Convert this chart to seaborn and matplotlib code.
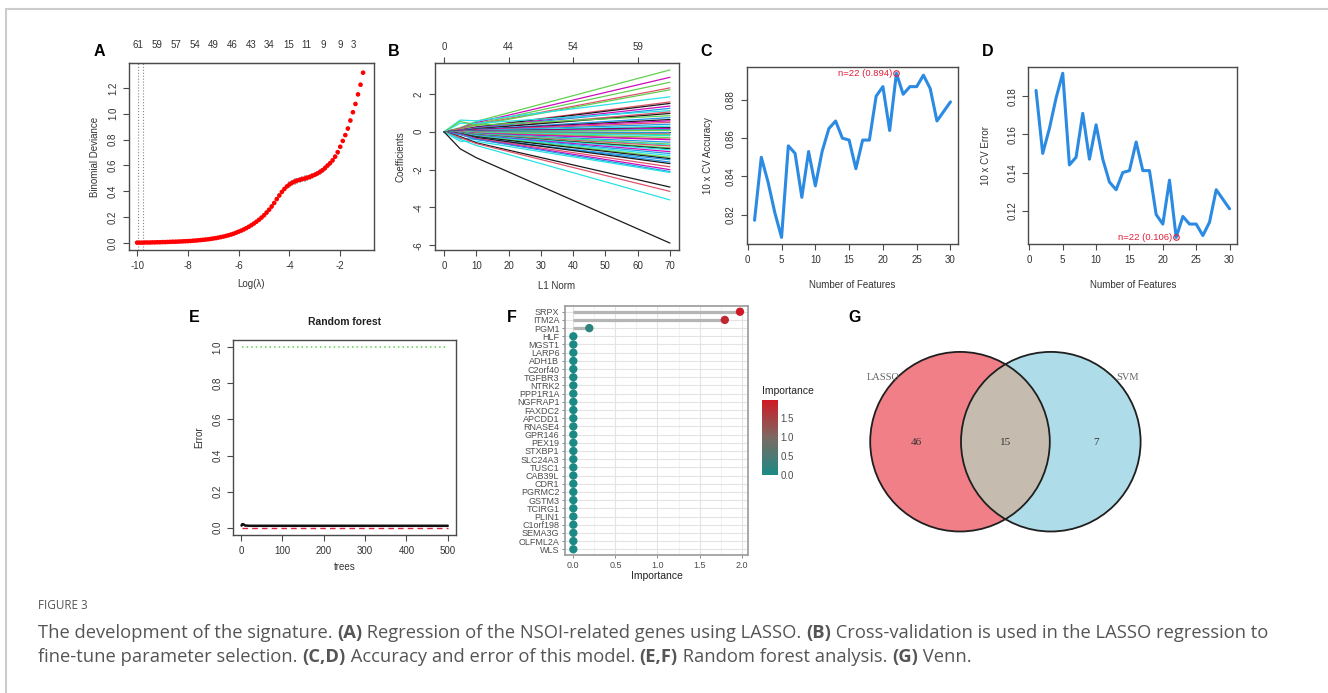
import numpy as np
import pandas as pd
import matplotlib
matplotlib.use("Agg")
import matplotlib.pyplot as plt
import seaborn as sns
from matplotlib.patches import Circle
from matplotlib.lines import Line2D
from matplotlib.colors import LinearSegmentedColormap, Normalize
from matplotlib.cm import ScalarMappable

sns.set_style("white")
plt.rcParams["font.family"] = ["Liberation Sans", "DejaVu Sans"]

# ------------------------------------------------------------------ data
# (A) LASSO cross-validation curve
lasso_loglambda = [
    -10.0, -9.9, -9.8, -9.7, -9.6, -9.5, -9.4, -9.3, -9.2, -9.1,
    -9.0, -8.9, -8.8, -8.7, -8.6, -8.5, -8.4, -8.3, -8.2, -8.1,
    -8.0, -7.9, -7.8, -7.7, -7.6, -7.5, -7.4, -7.3, -7.2, -7.1,
    -7.0, -6.9, -6.8, -6.7, -6.6, -6.5, -6.4, -6.3, -6.2, -6.1,
    -6.0, -5.9, -5.8, -5.7, -5.6, -5.5, -5.4, -5.3, -5.2, -5.1,
    -5.0, -4.9, -4.8, -4.7, -4.6, -4.5, -4.4, -4.3, -4.2, -4.1,
    -4.0, -3.9, -3.8, -3.7, -3.6, -3.5, -3.4, -3.3, -3.2, -3.1,
    -3.0, -2.9, -2.8, -2.7, -2.6, -2.5, -2.4, -2.3, -2.2, -2.1,
    -2.0, -1.9, -1.8, -1.7, -1.6, -1.5, -1.4, -1.3, -1.2, -1.1]
lasso_deviance = [
    .003, .003, .003, .004, .004, .004, .005, .005, .006, .006,
    .007, .007, .008, .009, .010, .010, .011, .012, .013, .014,
    .015, .016, .018, .019, .021, .023, .025, .027, .029, .032,
    .035, .038, .042, .046, .050, .055, .060, .066, .072, .080,
    .088, .096, .105, .115, .126, .138, .151, .165, .180, .197,
    .215, .236, .258, .283, .310, .340, .368, .395, .418, .438,
    .453, .466, .476, .483, .489, .494, .499, .505, .512, .520,
    .528, .538, .550, .563, .580, .600, .618, .640, .668, .703,
    .745, .790, .835, .886, .948, 1.012, 1.076, 1.150, 1.225, 1.318]
lasso_se = ([0.006] * 40 + [0.010] * 10 + [0.016] * 10 + [0.024] * 10
            + [0.020] * 10 + [0.016] * 10)
lasso_top_pos = [-9.95, -9.22, -8.48, -7.74, -6.99, -6.24, -5.51, -4.79,
                 -4.04, -3.32, -2.65, -2.0, -1.48]
lasso_top_labels = ["61", "59", "57", "54", "49", "46", "43", "34",
                    "15", "11", "9", "9", "3"]
lambda_min_log = -9.96
lambda_1se_log = -9.75

# (B) coefficient paths: value at L1 norm 5, 10 and 70
path_l1 = [0, 5, 10, 70]
coef_at5 = [0.22, 0.18, 0.15, 0.14, 0.12, 0.62, 0.10, 0.08, 0.09, 0.07,
            0.45, 0.05, 0.05, 0.55, 0.04, 0.03, 0.02, 0.02, 0.0, 0.0,
            0.0, 0.0, 0.0, 0.0, 0.0, 0.0, 0.0, 0.0, 0.0, -0.01,
            -0.02, -0.02, -0.03, -0.03, -0.04, -0.04, -0.05, -0.05, -0.06, -0.06,
            -0.07, -0.07, -0.08, -0.09, -0.35, -0.10, -0.10, -0.12, -0.13, -0.15,
            -0.50, -0.25, -0.30, -0.40, -0.90]
coef_at10 = [0.55, 0.48, 0.42, 0.38, 0.35, 0.58, 0.26, 0.25, 0.22, 0.20,
             0.45, 0.17, 0.16, 0.35, 0.13, 0.11, 0.10, 0.08, 0.07, 0.05,
             0.04, 0.03, 0.02, 0.01, 0.0, -0.01, -0.02, -0.03, -0.04, -0.05,
             -0.07, -0.08, -0.10, -0.12, -0.13, -0.14, -0.15, -0.16, -0.17, -0.19,
             -0.20, -0.22, -0.24, -0.26, -0.40, -0.30, -0.30, -0.35, -0.38, -0.40,
             -0.50, -0.58, -0.62, -0.72, -1.37]
coef_at70 = [3.27, 2.88, 2.62, 2.32, 2.22, 1.85, 1.58, 1.50, 1.36, 1.24,
             1.12, 1.05, 0.97, 0.85, 0.75, 0.65, 0.58, 0.50, 0.40, 0.30,
             0.22, 0.18, 0.12, 0.08, 0.00, -0.05, -0.12, -0.15, -0.20, -0.30,
             -0.38, -0.42, -0.55, -0.65, -0.70, -0.75, -0.85, -0.90, -0.95, -1.05,
             -1.15, -1.25, -1.35, -1.42, -1.48, -1.60, -1.68, -1.85, -2.00, -2.10,
             -2.15, -2.92, -3.15, -3.60, -5.88]
coef_colour = ["green", "magenta", "green", "red", "green", "cyan", "red", "black", "magenta", "blue",
               "cyan", "red", "black", "green", "blue", "black", "magenta", "red", "blue", "cyan",
               "black", "magenta", "blue", "green", "black", "blue", "red", "green", "cyan", "green",
               "red", "magenta", "blue", "green", "cyan", "red", "green", "black", "cyan", "magenta",
               "blue", "cyan", "green", "black", "blue", "blue", "black", "red", "magenta", "blue",
               "cyan", "black", "red", "cyan", "black"]
l1_top_pos = [0, 20, 40, 60]
l1_top_labels = ["0", "44", "54", "59"]

# (C, D) recursive feature elimination
n_features = list(range(1, 31))
cv_accuracy = [0.817, 0.850, 0.837, 0.821, 0.808, 0.856, 0.852, 0.829, 0.853, 0.835,
               0.853, 0.865, 0.869, 0.860, 0.859, 0.844, 0.859, 0.859, 0.882, 0.887,
               0.864, 0.894, 0.883, 0.887, 0.887, 0.893, 0.886, 0.869, 0.874, 0.879]
cv_error = [0.183, 0.150, 0.163, 0.179, 0.192, 0.144, 0.148, 0.171, 0.147, 0.165,
            0.147, 0.135, 0.131, 0.140, 0.141, 0.156, 0.141, 0.141, 0.118, 0.113,
            0.136, 0.106, 0.117, 0.113, 0.113, 0.107, 0.114, 0.131, 0.126, 0.121]
best_n = 22

# (E) random forest error
rf_trees = [1, 2, 3, 5, 8, 10, 15, 20, 30, 50, 100, 200, 300, 400, 500]
rf_oob = [0.012, 0.018, 0.020, 0.020, 0.015, 0.012, 0.012, 0.011, 0.011, 0.011,
          0.011, 0.011, 0.011, 0.011, 0.011]
rf_class1 = [0.0] * 15
rf_class2 = [1.0] * 15

# (F) importance
genes = ["SRPX", "ITM2A", "PGM1", "HLF", "MGST1", "LARP6", "ADH1B", "C2orf40", "TGFBR3",
         "NTRK2", "PPP1R1A", "NGFRAP1", "FAXDC2", "APCDD1", "RNASE4", "GPR146", "PEX19",
         "STXBP1", "SLC24A3", "TUSC1", "CAB39L", "CDR1", "PGRMC2", "GSTM3", "TCIRG1",
         "PLIN1", "C1orf198", "SEMA3G", "OLFML2A", "WLS"]
importance = [1.98, 1.80, 0.19] + [0.0] * 27

# (G) Venn
venn_sets = ["LASSO", "SVM"]
venn_counts = [46, 15, 7]

# ------------------------------------------------------------------ figure
W, H = 1328, 693
fig = plt.figure(figsize=(W / 100, H / 100), dpi=100)
AX = "#4a4a4a"
TXT = "#333333"
RPAL = {"black": "#1a1a1a", "red": "#DF536B", "green": "#61D04F",
        "blue": "#2297E6", "cyan": "#28E2E5", "magenta": "#CD0BBC"}


def px_axes(x0, y0, x1, y1):
    return fig.add_axes([x0 / W, 1 - y1 / H, (x1 - x0) / W, (y1 - y0) / H])


def r_axes(ax, xticks, xlabels, yticks, ylabels, xlab, ylab, xl_off, yl_off):
    for s in ax.spines.values():
        s.set_visible(True)
        s.set_color(AX)
        s.set_linewidth(1.0)
    ax.set_xticks(xticks)
    ax.set_xticklabels(xlabels)
    ax.set_yticks(yticks)
    ax.set_yticklabels(ylabels, rotation=90, va="center")
    ax.tick_params(direction="out", length=4, width=0.8, colors=AX,
                   labelsize=7, labelcolor=TXT, pad=4,
                   bottom=True, left=True, top=False, right=False)
    ax.set_xlabel(xlab, fontsize=7, color=TXT)
    ax.set_ylabel(ylab, fontsize=7, color=TXT)
    bb = ax.get_position()
    ax.xaxis.set_label_coords(0.5, -xl_off / (bb.height * H))
    ax.xaxis.label.set_va("center")
    ax.yaxis.set_label_coords(-yl_off / (bb.width * W), 0.5)
    ax.yaxis.label.set_va("center")
    ax.grid(False)


def r_pad(vals):
    lo, hi = min(vals), max(vals)
    r = hi - lo
    return lo - 0.04 * r, hi + 0.04 * r


def letter(x, y, s):
    fig.text(x / W, 1 - y / H, s, fontsize=11.5, fontweight="bold",
             ha="center", va="center", color="black")


# ---------------- A
axA = px_axes(129, 63, 374, 250)
dev = np.array(lasso_deviance)
se = np.array(lasso_se)
axA.vlines(lasso_loglambda, dev - se, dev + se, colors="#b8b8b8", lw=1.3, zorder=1)
sns.scatterplot(x=lasso_loglambda, y=lasso_deviance, color="#ff0000", s=11,
                edgecolor="none", ax=axA, zorder=3)
axA.axvline(lambda_min_log, color="#888888", ls=":", lw=0.8)
axA.axvline(lambda_1se_log, color="#888888", ls=":", lw=0.8)
axA.set_xlim(-10.32, -0.67)
axA.set_ylim(-0.054, 1.393)
r_axes(axA, [-10, -8, -6, -4, -2], ["-10", "-8", "-6", "-4", "-2"],
       [0, 0.2, 0.4, 0.6, 0.8, 1.0, 1.2], ["0.0", "0.2", "0.4", "0.6", "0.8", "1.0", "1.2"],
       "Log(λ)", "Binomial Deviance", 34, 34)
secA = axA.secondary_xaxis("top")
secA.set_xticks(lasso_top_pos, labels=lasso_top_labels)
secA.tick_params(length=0, labelsize=7, labelcolor=TXT, pad=9)
secA.spines["top"].set_color(AX)
letter(99, 52, "A")

# ---------------- B
rows = []
for i in range(len(coef_at70)):
    vals = [0.0, coef_at5[i], coef_at10[i], coef_at70[i]]
    for l1, v in zip(path_l1, vals):
        rows.append({"gene": f"g{i}", "l1": l1, "coef": v})
dfB = pd.DataFrame(rows)
axB = px_axes(435, 63, 679, 250)
sns.lineplot(data=dfB, x="l1", y="coef", hue="gene",
             palette=[RPAL[c] for c in coef_colour], estimator=None, sort=False,
             legend=False, lw=0.9, ax=axB)
axB.set_xlim(-2.8, 72.8)
axB.set_ylim(*r_pad(coef_at70))
r_axes(axB, [0, 10, 20, 30, 40, 50, 60, 70], [str(v) for v in range(0, 71, 10)],
       [-6, -4, -2, 0, 2], ["-6", "-4", "-2", "0", "2"], "L1 Norm", "Coefficients", 36, 34)
secB = axB.secondary_xaxis("top")
secB.set_xticks(l1_top_pos, labels=l1_top_labels)
secB.tick_params(length=4, width=0.8, direction="out", colors=AX, labelsize=7,
                 labelcolor=TXT, pad=4)
secB.spines["top"].set_color(AX)
letter(394, 52, "B")

# ---------------- C
axC = px_axes(746.7, 66.7, 958.3, 244)
sns.lineplot(x=n_features, y=cv_accuracy, color="#2B8AE2", lw=2.2, ax=axC)
bi = n_features.index(best_n)
axC.plot(best_n, cv_accuracy[bi], "o", mfc="none", mec="#e0203a", ms=4, mew=0.8)
axC.text(best_n - 0.6, cv_accuracy[bi], f"n={best_n} ({cv_accuracy[bi]:.3f})",
         color="#e0203a", fontsize=6.8, ha="right", va="center")
axC.set_xlim(*r_pad(n_features))
axC.set_ylim(*r_pad(cv_accuracy))
r_axes(axC, [0, 5, 10, 15, 20, 25, 30], [str(v) for v in range(0, 31, 5)],
       [0.82, 0.84, 0.86, 0.88], ["0.82", "0.84", "0.86", "0.88"],
       "Number of Features", "10 x CV Accuracy", 41, 39)
letter(706, 52, "C")

# ---------------- D
axD = px_axes(1028.3, 66.7, 1237.3, 244)
sns.lineplot(x=n_features, y=cv_error, color="#2B8AE2", lw=2.2, ax=axD)
axD.plot(best_n, cv_error[bi], "o", mfc="none", mec="#e0203a", ms=4, mew=0.8)
axD.text(best_n - 0.6, cv_error[bi], f"n={best_n} ({cv_error[bi]:.3f})",
         color="#e0203a", fontsize=6.8, ha="right", va="center")
axD.set_xlim(*r_pad(n_features))
axD.set_ylim(*r_pad(cv_error))
r_axes(axD, [0, 5, 10, 15, 20, 25, 30], [str(v) for v in range(0, 31, 5)],
       [0.12, 0.14, 0.16, 0.18], ["0.12", "0.14", "0.16", "0.18"],
       "Number of Features", "10 x CV Error", 41, 42)
letter(988, 52, "D")

# ---------------- E
axE = px_axes(233.3, 340, 456, 535)
sns.lineplot(x=rf_trees, y=rf_class2, color="#61D04F", lw=1.1, ls=(0, (1, 2)), ax=axE)
sns.lineplot(x=rf_trees, y=rf_class1, color="#DF2040", lw=1.0, ls=(0, (4, 3)), ax=axE)
sns.lineplot(x=rf_trees, y=rf_oob, color="#111111", lw=1.8, ax=axE)
axE.set_xlim(*r_pad(rf_trees))
axE.set_ylim(-0.04, 1.04)
r_axes(axE, [0, 100, 200, 300, 400, 500], ["0", "100", "200", "300", "400", "500"],
       [0, 0.2, 0.4, 0.6, 0.8, 1.0], ["0.0", "0.2", "0.4", "0.6", "0.8", "1.0"],
       "trees", "Error", 32, 34)
axE.set_title("Random forest", fontsize=7.5, fontweight="bold", color="#222222", pad=11)
letter(194, 317, "E")

# ---------------- F
imp_norm = Normalize(vmin=0, vmax=max(importance))
imp_cmap = LinearSegmentedColormap.from_list("imp", ["#1B8A84", "#7C6A62", "#CE1A26"])
axF = px_axes(565, 306, 748.3, 555)
axF.hlines(genes, 0, importance, color="#b5b5b5", lw=2.3, zorder=2)
sns.scatterplot(x=importance, y=genes, hue=importance, palette=imp_cmap, hue_norm=imp_norm,
                s=36, edgecolor="none", legend=False, ax=axF, zorder=3)
axF.set_xlim(-0.099, 2.079)
axF.set_ylim(len(genes) - 0.3, -0.7)
axF.set_xticks([0, 0.5, 1.0, 1.5, 2.0])
axF.set_xticklabels(["0.0", "0.5", "1.0", "1.5", "2.0"])
axF.set_xticks([0.25, 0.75, 1.25, 1.75], minor=True)
axF.grid(True, which="major", color="#e3e3e3", lw=0.8)
axF.grid(True, which="minor", axis="x", color="#f0f0f0", lw=0.6)
axF.set_axisbelow(True)
for s in axF.spines.values():
    s.set_visible(True)
    s.set_color("#9a9a9a")
    s.set_linewidth(1.2)
axF.tick_params(which="major", direction="out", length=2.5, width=0.6, colors="#777777",
                labelsize=6.5, labelcolor="#4d4d4d", pad=1.5, bottom=True, left=True)
axF.tick_params(which="minor", length=0)
axF.set_xlabel("Importance", fontsize=7.5, color="#222222", labelpad=1)
axF.set_ylabel("")
cax = px_axes(761.7, 400, 777.7, 475)
cb = fig.colorbar(ScalarMappable(norm=imp_norm, cmap=imp_cmap), cax=cax)
cb.outline.set_visible(False)
cb.set_ticks([0, 0.5, 1.0, 1.5])
cb.set_ticklabels(["0.0", "0.5", "1.0", "1.5"])
cax.tick_params(length=3, width=0.6, color="white", direction="in", labelsize=7,
                labelcolor="#4d4d4d", pad=2)
fig.text(762 / W, 1 - 391.5 / H, "Importance", fontsize=7.5, color="#222222",
         ha="left", va="center")
letter(512, 317, "F")

# ---------------- G
axG = px_axes(850, 345, 1150, 545)
axG.set_xlim(0, 300)
axG.set_ylim(0, 200)
axG.set_aspect("equal")
axG.axis("off")
cL = (110, 103.3)
cR = (200.8, 103.3)
rad = 89.8
left_fill = Circle(cL, rad, fc="#F07F87", ec="none", zorder=1)
axG.add_patch(left_fill)
axG.add_patch(Circle(cR, rad, fc="#AEDDE9", ec="none", zorder=1))
inter = Circle(cR, rad, fc="#C5BCAF", ec="none", zorder=2)
axG.add_patch(inter)
inter.set_clip_path(left_fill)
axG.add_patch(Circle(cL, rad, fc="none", ec="#1f1f1f", lw=1.3, zorder=3))
axG.add_patch(Circle(cR, rad, fc="none", ec="#1f1f1f", lw=1.3, zorder=3))
serif = ["Liberation Serif", "DejaVu Serif"]
axG.text(33, 167.3, venn_sets[0], family=serif, fontsize=7.5, color="#666666",
         ha="center", va="center", zorder=4)
axG.text(278, 167.3, venn_sets[1], family=serif, fontsize=7.5, color="#666666",
         ha="center", va="center", zorder=4)
for xx, n in zip([66.7, 156, 246], venn_counts):
    axG.text(xx, 102.3, str(n), family=serif, fontsize=8, color="#333333",
             ha="center", va="center", zorder=4)
letter(855, 317, "G")

# ---------------- border & caption
fig.add_artist(Line2D([6 / W, 6 / W], [0, 1 - 9 / H], transform=fig.transFigure,
                      color="#cccccc", lw=1.5))
fig.add_artist(Line2D([6 / W, 1], [1 - 9 / H, 1 - 9 / H], transform=fig.transFigure,
                      color="#cccccc", lw=1.5))

CAP = "#555555"
CFONT = ["Open Sans", "DejaVu Sans"]
fig.text(38 / W, 1 - 609 / H, "FIGURE 3", fontsize=8.5, color=CAP, family=CFONT,
         ha="left", va="baseline")

line1 = [("The development of the signature. ", False), ("(A)", True),
         (" Regression of the NSOI-related genes using LASSO. ", False), ("(B)", True),
         (" Cross-validation is used in the LASSO regression to", False)]
line2 = [("fine-tune parameter selection. ", False), ("(C,D)", True),
         (" Accuracy and error of this model. ", False), ("(E,F)", True),
         (" Random forest analysis. ", False), ("(G)", True), (" Venn.", False)]

renderer = fig.canvas.get_renderer()


def seg_width(txt, bold, size):
    t1 = fig.text(0, 0, txt + "|", fontsize=size, family=CFONT,
                  fontweight="bold" if bold else "normal")
    t2 = fig.text(0, 0, "|", fontsize=size, family=CFONT,
                  fontweight="bold" if bold else "normal")
    w = t1.get_window_extent(renderer).width - t2.get_window_extent(renderer).width
    t1.remove()
    t2.remove()
    return w


base = 11.0
w1 = sum(seg_width(t, b, base) for t, b in line1)
csize = base * 1232 / w1


def rich(x, y, segs):
    for t, b in segs:
        fig.text(x / W, 1 - y / H, t, fontsize=csize, family=CFONT, color=CAP,
                 fontweight="bold" if b else "normal", ha="left", va="baseline")
        x += seg_width(t, b, csize)


rich(38, 638, line1)
rich(38, 662, line2)

fig.savefig("out.png", dpi=100)
